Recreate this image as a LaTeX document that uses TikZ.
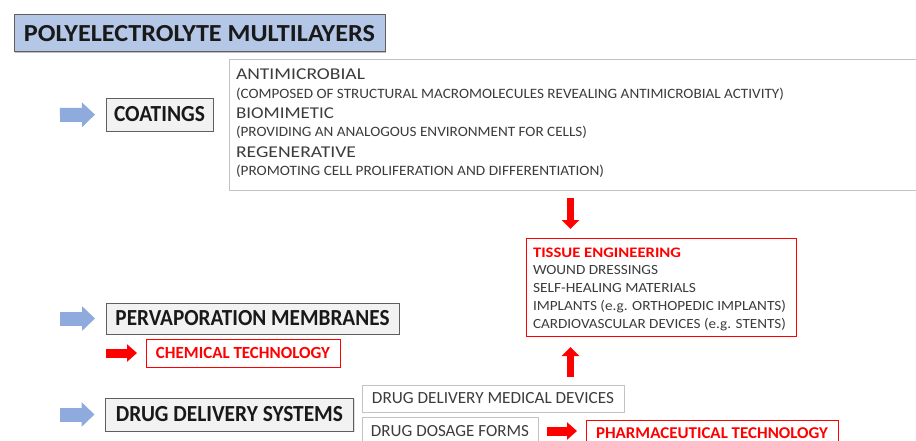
\documentclass[tikz,border=0pt]{standalone}
\usepackage{graphicx}
\usepackage{fontspec}
\setmainfont{Carlito}
\usetikzlibrary{arrows.meta,shadows}

\definecolor{titleblue}{RGB}{180,199,231}
\definecolor{arrowblue}{RGB}{143,170,220}
\definecolor{boxgray}{RGB}{242,242,242}
\definecolor{edgegray}{RGB}{95,95,95}
\definecolor{lightedge}{RGB}{195,195,195}
\definecolor{labelink}{RGB}{25,25,25}
\definecolor{bodyink}{RGB}{60,60,60}
\definecolor{signalred}{RGB}{255,0,0}

% stretch a label horizontally to a given width, keeping its height
\newcommand\fitw[2]{\resizebox{#1}{\height}{#2}}

\begin{document}
\begin{tikzpicture}[x=1pt,y=-1pt,
  every node/.style={inner sep=0pt,outer sep=0pt},
  headbox/.style={draw=edgegray,fill=titleblue,line width=1pt,
    drop shadow={shadow xshift=1.3pt,shadow yshift=-1.3pt,opacity=0.5},
    text=labelink,font=\fontsize{24.5}{28}\selectfont\bfseries},
  graybox/.style={draw=edgegray,fill=boxgray,line width=0.9pt,
    drop shadow={shadow xshift=1pt,shadow yshift=-1pt,opacity=0.25},
    text=labelink,font=\fontsize{23}{26}\selectfont\bfseries},
  lightbox/.style={draw=lightedge,fill=white,line width=0.9pt,
    text=bodyink,font=\fontsize{17}{20}\selectfont},
  redbox/.style={draw=signalred,fill=white,line width=1pt,
    drop shadow={shadow xshift=0.9pt,shadow yshift=-0.9pt,opacity=0.3},
    text=signalred,font=\fontsize{17}{20}\selectfont\bfseries},
  redlabel/.style={anchor=base,text=signalred,font=\fontsize{16.5}{19}\selectfont\bfseries},
  bigline/.style={anchor=base west,text=bodyink,font=\fontsize{16.5}{19}\selectfont},
  smallline/.style={anchor=base west,text=bodyink,font=\fontsize{14.3}{17}\selectfont},
  listline/.style={anchor=base west,text=bodyink,font=\fontsize{14}{16}\selectfont},
  listhead/.style={anchor=base west,text=signalred,font=\fontsize{14.5}{16}\selectfont\bfseries},
  bluearr/.style={draw=arrowblue,line width=14pt,-{Triangle[width=24pt,length=13pt]}},
  redarr/.style={draw=signalred,line width=9pt,-{Triangle[width=17pt,length=10pt]}},
  vredarr/.style={draw=signalred,line width=7.5pt,-{Triangle[width=17pt,length=9pt]}}
]
\clip (0,0) rectangle (916,441);
\fill[white] (0,0) rectangle (916,441);

% heading
\node[headbox,minimum width=371pt,minimum height=37pt] (title) at (199.5,33.5)
  {\fitw{351pt}{POLYELECTROLYTE MULTILAYERS}};

% coatings branch
\node[graybox,minimum width=107pt,minimum height=33pt] (coat) at (159.5,114.5)
  {\fitw{91pt}{COATINGS}};
\node[lightbox,anchor=north west,minimum width=720pt,minimum height=131pt] (desc) at (229,59) {};
\node[bigline]   (d1) at (236,80)  {\fitw{129pt}{ANTIMICROBIAL}};
\node[smallline] (d2) at (236,99)  {\fitw{548pt}{(COMPOSED OF STRUCTURAL MACROMOLECULES REVEALING ANTIMICROBIAL ACTIVITY)}};
\node[bigline]   (d3) at (236,119) {\fitw{98pt}{BIOMIMETIC}};
\node[smallline] (d4) at (236,137) {\fitw{351pt}{(PROVIDING AN ANALOGOUS ENVIRONMENT FOR CELLS)}};
\node[bigline]   (d5) at (236,158) {\fitw{120pt}{REGENERATIVE}};
\node[smallline] (d6) at (236,176) {\fitw{368pt}{(PROMOTING CELL PROLIFERATION AND DIFFERENTIATION)}};

% tissue engineering
\node[redbox,anchor=north west,minimum width=270pt,minimum height=98pt] (tissue) at (526,238) {};
\node[listhead] (t1) at (533,257)   {\fitw{148pt}{TISSUE ENGINEERING}};
\node[listline] (t2) at (533,274.5) {\fitw{125pt}{WOUND DRESSINGS}};
\node[listline] (t3) at (533,292)   {\fitw{163pt}{SELF-HEALING MATERIALS}};
\node[listline] (t4) at (533,310)   {\fitw{253pt}{IMPLANTS (e.g. ORTHOPEDIC IMPLANTS)}};
\node[listline] (t5) at (533,328)   {\fitw{253pt}{CARDIOVASCULAR DEVICES (e.g. STENTS)}};

% pervaporation branch
\node[graybox,minimum width=293pt,minimum height=31pt] (perv) at (252.5,318.5)
  {\fitw{274pt}{PERVAPORATION MEMBRANES}};
\node[redbox,minimum width=194pt,minimum height=28pt] (chem) at (243,353)
  {\fitw{174pt}{CHEMICAL TECHNOLOGY}};

% drug delivery branch
\node[graybox,minimum width=248pt,minimum height=33pt] (dds) at (229.5,414.5)
  {\fitw{227pt}{DRUG DELIVERY SYSTEMS}};
\node[lightbox,minimum width=262pt,minimum height=27pt] (ddmd) at (493,398.5)
  {\fitw{242pt}{DRUG DELIVERY MEDICAL DEVICES}};
\node[lightbox,minimum width=176pt,minimum height=28pt] (dose) at (450,431)
  {\fitw{158pt}{DRUG DOSAGE FORMS}};
\node[redbox,anchor=north west,minimum width=252pt,minimum height=28pt] (pharma) at (586,420) {};
\node[redlabel] (pharmatext) at (712,438)
  {\fitw{232pt}{PHARMACEUTICAL TECHNOLOGY}};

% block arrows
\coordinate (b1) at (60,115);
\coordinate (b2) at (60,318.5);
\coordinate (b3) at (60,414.5);
\coordinate (r1) at (106,353);
\coordinate (vx) at (570.5,0);
\draw[bluearr,shorten >=11pt] (b1) -- (coat.west);
\draw[bluearr,shorten >=11pt] (b2) -- (perv.west);
\draw[bluearr,shorten >=11pt] (b3) -- (dds.west);
\draw[redarr,shorten >=9pt] (r1) -- (chem.west);
\draw[redarr,shorten <=9pt,shorten >=9pt] (dose.east) -- (dose.east -| pharma.west);
\draw[vredarr,shorten <=8pt,shorten >=9pt] (desc.south -| vx) -- (tissue.north -| vx);
\draw[vredarr,shorten <=8pt,shorten >=11pt] (ddmd.north -| vx) -- (tissue.south -| vx);
\end{tikzpicture}
\end{document}
